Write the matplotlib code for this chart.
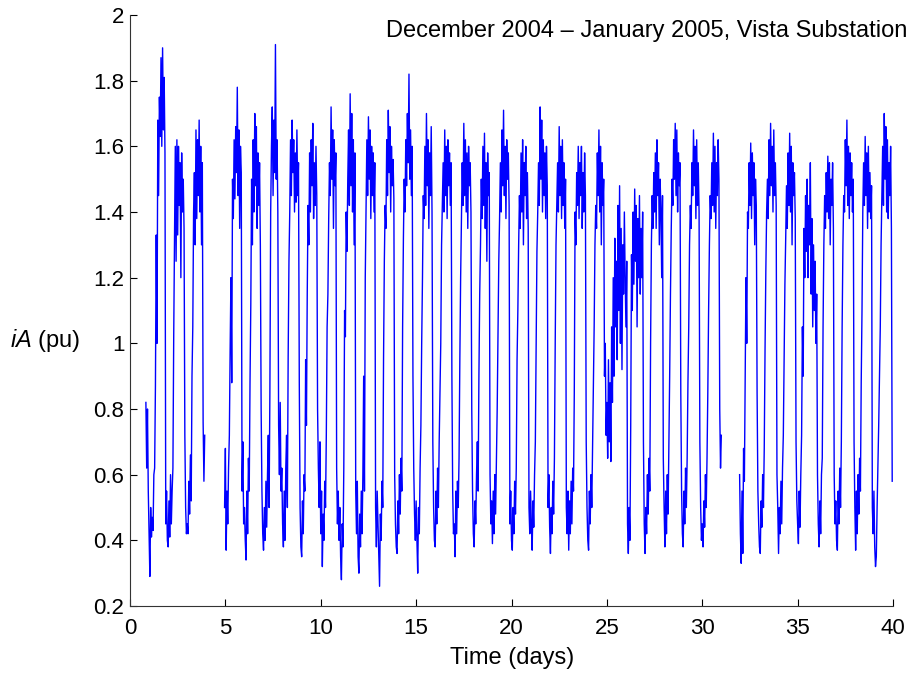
import numpy as np
import matplotlib
matplotlib.use("Agg")
import matplotlib.pyplot as plt

plt.rcParams['font.family'] = ['Liberation Sans', 'DejaVu Sans']
plt.rcParams['mathtext.fontset'] = 'custom'
plt.rcParams['mathtext.it'] = 'Liberation Sans:italic'
plt.rcParams['mathtext.rm'] = 'Liberation Sans'

# Hourly phase-A current (pu); each segment starts at the given hour
seg1_start_hour = 0 * 24 + 20
seg1 = [
    0.82, 0.62, 0.80, 0.55,  # day 0 (h20-23)
    0.42, 0.29, 0.50, 0.41, 0.47, 0.43, 0.60, 0.62, 0.87, 1.33, 1.00, 1.68, 1.45, 1.75, 1.63, 1.87, 1.60, 1.90, 1.65, 1.81, 1.58, 0.45, 0.55, 0.40,
    0.38, 0.52, 0.41, 0.60, 0.45, 0.55, 0.62, 1.02, 1.32, 1.60, 1.25, 1.62, 1.33, 1.60, 1.42, 1.55, 1.20, 1.58, 1.40, 1.50, 1.35, 0.72, 0.50, 0.42,
    0.45, 0.42, 0.58, 0.48, 0.66, 0.52, 0.90, 1.05, 1.40, 1.52, 1.30, 1.65, 1.38, 1.62, 1.45, 1.68, 1.40, 1.60, 1.30, 1.55, 0.76, 0.58, 0.72,
]

seg2_start_hour = 4 * 24 + 23
seg2 = [
    0.50,
    0.68, 0.37, 0.55, 0.45, 0.62, 0.72, 0.98, 1.20, 0.88, 1.50, 1.38, 1.62, 1.44, 1.66, 1.52, 1.78, 1.45, 1.65, 1.35, 1.60, 1.52, 0.55, 0.70, 0.45,
    0.50, 0.40, 0.34, 0.55, 0.42, 0.65, 0.55, 0.88, 1.12, 1.50, 1.30, 1.62, 1.40, 1.70, 1.48, 1.66, 1.35, 1.58, 1.42, 1.55, 1.30, 0.80, 0.55, 0.42,
    0.37, 0.50, 0.40, 0.58, 0.44, 0.60, 0.72, 0.50, 0.85, 1.40, 1.60, 1.72, 1.45, 1.68, 1.52, 1.91, 1.50, 1.62, 1.40, 0.75, 0.60, 0.82, 0.55, 0.62,
    0.45, 0.38, 0.55, 0.40, 0.62, 0.72, 0.50, 0.96, 1.25, 1.40, 1.62, 1.45, 1.68, 1.52, 1.62, 1.40, 1.58, 1.43, 1.65, 1.45, 1.55, 0.88, 0.50, 0.38,
    0.35, 0.52, 0.42, 0.60, 0.55, 0.95, 0.75, 1.15, 1.42, 1.30, 1.58, 1.40, 1.62, 1.48, 1.67, 1.38, 1.55, 1.42, 1.60, 1.45, 0.80, 0.62, 0.50, 0.70,
    0.42, 0.55, 0.32, 0.48, 0.40, 0.58, 0.50, 0.72, 1.05, 1.15, 1.38, 1.55, 1.45, 1.72, 1.50, 1.65, 1.35, 1.62, 1.48, 1.58, 0.62, 0.45, 0.55, 0.40,
    0.50, 0.35, 0.28, 0.45, 0.38, 0.62, 1.10, 1.02, 1.40, 1.28, 1.50, 1.65, 1.42, 1.76, 1.48, 1.70, 1.40, 1.62, 1.30, 1.58, 0.55, 0.42, 0.58, 0.35,
    0.30, 0.48, 0.38, 0.55, 0.42, 0.60, 0.90, 0.55, 1.20, 1.40, 1.62, 1.45, 1.69, 1.50, 1.65, 1.38, 1.60, 1.45, 1.58, 1.40, 1.55, 0.50, 0.38, 0.55,
    0.45, 0.34, 0.26, 0.48, 0.40, 0.58, 0.50, 0.95, 1.25, 1.42, 1.35, 1.62, 1.45, 1.71, 1.52, 1.66, 1.40, 1.60, 1.48, 1.56, 1.44, 0.60, 0.45, 0.38,
    0.36, 0.52, 0.42, 0.60, 0.48, 0.65, 0.55, 1.05, 1.32, 1.50, 1.40, 1.62, 1.48, 1.70, 1.55, 1.82, 1.50, 1.65, 1.45, 1.60, 0.90, 0.62, 0.48, 0.40,
    0.52, 0.40, 0.30, 0.50, 0.42, 0.62, 0.75, 1.00, 1.20, 1.45, 1.38, 1.60, 1.42, 1.70, 1.48, 1.62, 1.35, 1.58, 1.45, 1.66, 1.40, 0.70, 0.50, 0.40,
    0.38, 0.55, 0.45, 0.62, 0.50, 0.70, 0.85, 1.00, 1.30, 1.42, 1.55, 1.40, 1.65, 1.45, 1.60, 1.38, 1.62, 1.48, 1.58, 1.42, 1.55, 0.90, 0.55, 0.42,
    0.45, 0.35, 0.55, 0.42, 0.58, 0.50, 0.65, 0.95, 1.20, 1.38, 1.55, 1.42, 1.67, 1.45, 1.62, 1.40, 1.58, 1.35, 1.60, 1.48, 1.55, 1.40, 0.80, 0.55,
    0.42, 0.38, 0.52, 0.45, 0.60, 0.70, 0.55, 0.90, 1.15, 1.30, 1.50, 1.38, 1.60, 1.42, 1.64, 1.35, 1.55, 1.25, 1.58, 1.45, 1.52, 0.60, 0.45, 0.52,
    0.39, 0.55, 0.42, 0.60, 0.48, 0.65, 0.80, 1.02, 1.25, 1.38, 1.55, 1.40, 1.65, 1.48, 1.71, 1.45, 1.60, 1.38, 1.62, 1.50, 1.58, 1.42, 0.45, 0.55,
    0.40, 0.37, 0.50, 0.42, 0.58, 0.48, 0.62, 0.95, 1.10, 1.30, 1.45, 1.35, 1.58, 1.40, 1.62, 1.30, 1.55, 1.45, 1.60, 1.38, 1.52, 1.35, 0.50, 0.42,
    0.55, 0.45, 0.37, 0.52, 0.44, 0.60, 0.70, 0.98, 1.28, 1.40, 1.55, 1.42, 1.72, 1.50, 1.68, 1.40, 1.62, 1.45, 1.58, 1.38, 1.60, 1.48, 0.50, 0.60,
    0.44, 0.36, 0.50, 0.42, 0.58, 0.48, 0.65, 1.00, 1.30, 1.42, 1.55, 1.40, 1.66, 1.45, 1.60, 1.38, 1.62, 1.42, 1.55, 1.35, 1.50, 0.50, 0.42, 0.55,
    0.37, 0.52, 0.42, 0.58, 0.45, 0.62, 0.55, 0.85, 1.40, 1.30, 1.52, 1.42, 1.60, 1.38, 1.55, 1.45, 1.60, 1.35, 1.52, 1.40, 1.58, 1.45, 0.70, 0.50,
    0.40, 0.37, 0.55, 0.45, 0.60, 0.50, 0.68, 0.85, 1.05, 1.30, 1.42, 1.35, 1.58, 1.45, 1.65, 1.40, 1.60, 1.30, 1.55, 1.42, 1.50, 0.90, 1.00, 0.72,
    0.82, 0.65, 0.95, 0.70, 0.88, 0.64, 1.05, 0.82, 1.20, 0.90, 1.32, 1.05, 1.25, 0.95, 1.42, 1.10, 1.48, 1.00, 1.35, 0.92, 1.30, 1.15, 1.40, 1.20,
    1.05, 1.25, 0.45, 0.36, 0.50, 0.40, 0.75, 1.27, 1.10, 1.40, 1.18, 1.47, 1.25, 1.42, 1.05, 1.38, 1.20, 1.45, 1.15, 1.35, 1.20, 1.40, 0.70, 0.45,
    0.36, 0.50, 0.42, 0.60, 0.48, 0.65, 0.55, 1.00, 1.30, 1.45, 1.35, 1.52, 1.40, 1.58, 1.35, 1.62, 1.45, 1.55, 1.30, 1.50, 1.40, 1.20, 1.45, 0.65,
    0.50, 0.38, 0.55, 0.42, 0.60, 0.48, 0.68, 0.90, 1.15, 1.35, 1.50, 1.42, 1.62, 1.50, 1.67, 1.45, 1.65, 1.40, 1.58, 1.48, 1.55, 0.85, 0.55, 0.42,
    0.38, 0.55, 0.45, 0.62, 0.50, 0.65, 0.88, 1.05, 1.30, 1.42, 1.35, 1.55, 1.45, 1.65, 1.48, 1.60, 1.38, 1.62, 1.42, 1.55, 1.40, 0.70, 0.50, 0.40,
    0.45, 0.38, 0.52, 0.44, 0.60, 0.50, 0.65, 0.85, 1.10, 1.30, 1.45, 1.38, 1.55, 1.42, 1.64, 1.40, 1.60, 1.35, 1.55, 1.45, 1.62, 1.50, 0.80, 0.62,
    0.72,
]

seg3_start_hour = 31 * 24 + 23
seg3 = [
    0.60,
    0.42, 0.33, 0.55, 0.36, 0.68, 0.58, 0.90, 1.20, 1.00, 1.40, 1.35, 1.55, 1.42, 1.61, 1.38, 1.58, 1.45, 1.55, 1.30, 1.50, 1.42, 0.85, 0.55, 0.45,
    0.38, 0.36, 0.52, 0.44, 0.60, 0.50, 0.68, 0.98, 1.22, 1.40, 1.50, 1.38, 1.62, 1.45, 1.67, 1.48, 1.60, 1.40, 1.65, 1.45, 1.55, 1.42, 0.60, 0.50,
    0.36, 0.50, 0.42, 0.58, 0.45, 0.62, 0.72, 0.95, 1.18, 1.32, 1.48, 1.35, 1.58, 1.42, 1.64, 1.40, 1.60, 1.30, 1.55, 1.45, 1.52, 1.38, 0.70, 0.52,
    0.45, 0.39, 0.55, 0.44, 0.60, 0.72, 1.05, 0.90, 1.35, 1.20, 1.45, 1.28, 1.50, 1.20, 1.42, 1.30, 1.55, 1.15, 1.38, 1.05, 1.30, 1.10, 1.25, 1.00,
    1.15, 0.60, 0.45, 0.38, 0.52, 0.42, 0.60, 0.65, 1.05, 1.30, 1.45, 1.35, 1.52, 1.40, 1.57, 1.38, 1.55, 1.30, 1.50, 1.42, 1.55, 1.35, 0.60, 0.45,
    0.52, 0.40, 0.37, 0.55, 0.45, 0.62, 0.50, 0.70, 1.05, 1.30, 1.45, 1.40, 1.62, 1.48, 1.68, 1.42, 1.60, 1.38, 1.58, 1.45, 1.55, 1.40, 1.50, 0.70,
    0.50, 0.37, 0.55, 0.42, 0.60, 0.48, 0.65, 0.55, 0.88, 1.10, 1.40, 1.55, 1.42, 1.63, 1.45, 1.58, 1.35, 1.60, 1.40, 1.52, 1.38, 1.48, 0.50, 0.42,
    0.55, 0.38, 0.32, 0.35, 0.50, 0.62, 0.75, 0.90, 1.05, 1.30, 1.45, 1.60, 1.42, 1.70, 1.50, 1.66, 1.40, 1.62, 1.38, 1.55, 1.45, 1.60, 1.35, 0.58,
]

x_ticks = [0, 5, 10, 15, 20, 25, 30, 35, 40]
y_ticks = [0.2, 0.4, 0.6, 0.8, 1.0, 1.2, 1.4, 1.6, 1.8, 2.0]
y_tick_labels = ['0.2', '0.4', '0.6', '0.8', '1', '1.2', '1.4', '1.6', '1.8', '2']
title_text = 'December 2004 \u2013 January 2005, Vista Substation'

fig = plt.figure(figsize=(9.14, 6.74), dpi=100)
ax = fig.add_axes([130 / 914, 1 - 606 / 674, (893 - 130) / 914, (606 - 15) / 674])

for start, seg in [(seg1_start_hour, seg1), (seg2_start_hour, seg2), (seg3_start_hour, seg3)]:
    t = (start + np.arange(len(seg))) / 24.0
    ax.plot(t, seg, color='#0000ff', linewidth=1.0)

ax.set_xlim(0, 40)
ax.set_ylim(0.2, 2.0)
ax.set_xticks(x_ticks)
ax.set_yticks(y_ticks)
ax.set_yticklabels(y_tick_labels)
ax.tick_params(direction='in', length=5, width=0.8, labelsize=16, colors='black')
ax.tick_params(axis='x', pad=9)
ax.tick_params(axis='y', pad=4)
ax.spines['top'].set_visible(False)
ax.spines['right'].set_visible(False)
for s in ['left', 'bottom']:
    ax.spines[s].set_linewidth(0.8)
    ax.spines[s].set_color('#333333')
fig.text(512 / 914, 1 - 658 / 674, 'Time (days)', fontsize=17, ha='center', va='center')
fig.text(10 / 914, 1 - 340 / 674, r'$\mathit{iA}$ (pu)', fontsize=17, ha='left', va='center')
fig.text(907 / 914, 1 - 31 / 674, title_text, fontsize=17, ha='right', va='center')

fig.savefig('out.png', dpi=100)
